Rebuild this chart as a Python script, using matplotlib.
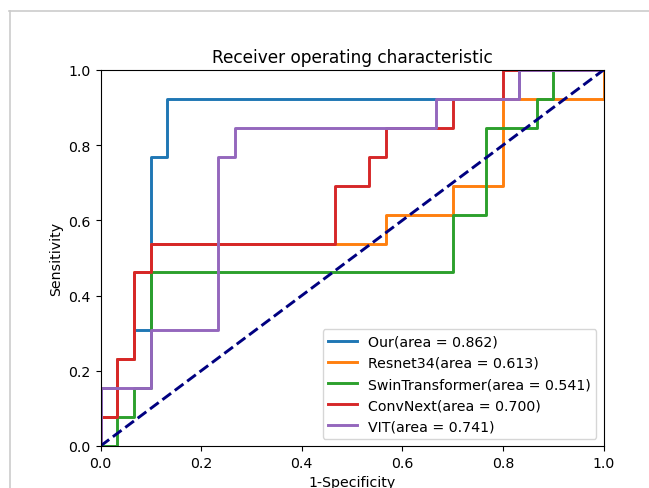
import matplotlib
matplotlib.use("Agg")
import matplotlib.pyplot as plt
from matplotlib.lines import Line2D

# ROC curves (corner points of the step curves)
names = ["Our", "Resnet34", "SwinTransformer", "ConvNext", "VIT"]
aucs = [0.862, 0.613, 0.541, 0.700, 0.741]

fpr_our = [0, 0, 0.033, 0.033, 0.067, 0.067, 0.1, 0.1, 0.133, 0.133, 0.833, 0.833, 1]
tpr_our = [0, 0.154, 0.154, 0.231, 0.231, 0.308, 0.308, 0.769, 0.769, 0.923, 0.923, 1, 1]

fpr_res = [0, 0, 0.033, 0.033, 0.067, 0.067, 0.1, 0.1, 0.567, 0.567, 0.7, 0.7, 0.8, 0.8, 1, 1]
tpr_res = [0, 0.077, 0.077, 0.231, 0.231, 0.462, 0.462, 0.538, 0.538, 0.615, 0.615, 0.692, 0.692, 0.923, 0.923, 1]

fpr_swin = [0, 0.033, 0.033, 0.067, 0.067, 0.1, 0.1, 0.7, 0.7, 0.767, 0.767, 0.867, 0.867, 0.9, 0.9, 1]
tpr_swin = [0, 0, 0.077, 0.077, 0.154, 0.154, 0.462, 0.462, 0.615, 0.615, 0.846, 0.846, 0.923, 0.923, 1, 1]

fpr_conv = [0, 0, 0.033, 0.033, 0.067, 0.067, 0.1, 0.1, 0.467, 0.467, 0.533, 0.533, 0.567, 0.567, 0.7, 0.7, 0.8, 0.8, 1]
tpr_conv = [0, 0.077, 0.077, 0.231, 0.231, 0.462, 0.462, 0.538, 0.538, 0.692, 0.692, 0.769, 0.769, 0.846, 0.846, 0.923, 0.923, 1, 1]

fpr_vit = [0, 0, 0.1, 0.1, 0.233, 0.233, 0.267, 0.267, 0.667, 0.667, 0.833, 0.833, 1]
tpr_vit = [0, 0.154, 0.154, 0.308, 0.308, 0.769, 0.769, 0.846, 0.846, 0.923, 0.923, 1, 1]

fprs = [fpr_our, fpr_res, fpr_swin, fpr_conv, fpr_vit]
tprs = [tpr_our, tpr_res, tpr_swin, tpr_conv, tpr_vit]

plt.rcParams["font.size"] = 10.2

fig = plt.figure(figsize=(6.49, 4.89), dpi=100)
ax = fig.add_axes([100.5 / 649, (489 - 447) / 489, 503 / 649, 376 / 489])

for name, auc, fx, ty in zip(names, aucs, fprs, tprs):
    ax.plot(fx, ty, lw=2.1, label=f"{name}(area = {auc:.3f})")

ax.plot([0, 1], [0, 1], color="navy", lw=2.1, linestyle="--")
ax.set_xlim(0.0, 1.0)
ax.set_ylim(0.0, 1.0)
ax.set_xlabel("1-Specificity")
ax.set_ylabel("Sensitivity")
ax.set_title("Receiver operating characteristic")
ax.legend(loc="lower right")

# light grey frame of the screenshot
fig.add_artist(Line2D([9 / 649, 1], [1 - 12 / 489, 1 - 12 / 489], color="#cccccc", lw=1.2))
fig.add_artist(Line2D([9.5 / 649, 9.5 / 649], [0, 1 - 12 / 489], color="#cccccc", lw=1.2))

fig.savefig("out.png", dpi=100)
